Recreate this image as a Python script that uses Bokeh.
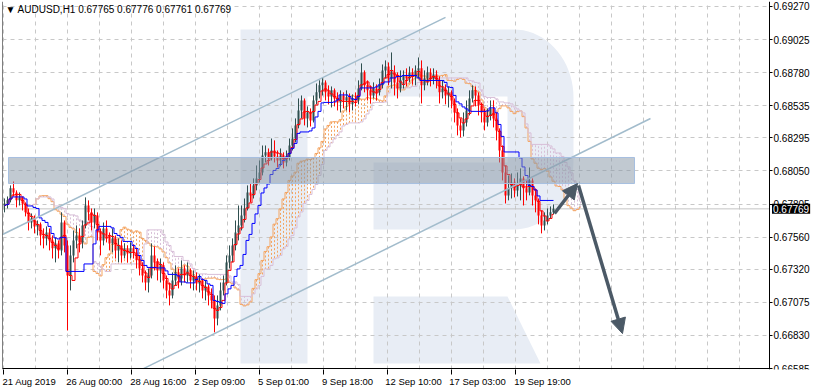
import numpy as np
import pandas as pd
from bokeh.plotting import figure
from bokeh.models import (FixedTicker, PrintfTickFormatter, Range1d, Label, Span,
                          Arrow, NormalHead, ColumnDataSource, LinearAxis)
from bokeh.embed import file_html
from bokeh.resources import INLINE

# ---------------- data ----------------
title_text = "\u25bc AUDUSD,H1  0.67765 0.67776 0.67761 0.67769"
last_price = 0.67769
hours_per_candle = 3          # each drawn candle groups 3 hourly bars
first_open = 0.67794

closes = [
 0.67809, 0.67832, 0.67921, 0.67891, 0.67832, 0.67854, 0.67809, 0.67743, 0.67668, 0.67698,
 0.67639, 0.67654, 0.67572, 0.67550, 0.67594, 0.67535, 0.67476, 0.67513, 0.67461, 0.67668,
 0.67498, 0.67275, 0.67424, 0.67535, 0.67572, 0.67520, 0.67646, 0.67794, 0.67743, 0.67668,
 0.67720, 0.67594, 0.67535, 0.67624, 0.67572, 0.67513, 0.67550, 0.67461, 0.67498, 0.67424,
 0.67476, 0.67438, 0.67476, 0.67446, 0.67387, 0.67327, 0.67275, 0.67223, 0.67275, 0.67424,
 0.67372, 0.67312, 0.67350, 0.67238, 0.67164, 0.67127, 0.67238, 0.67298, 0.67253, 0.67327,
 0.67275, 0.67312, 0.67238, 0.67268, 0.67216, 0.67238, 0.67164, 0.67194, 0.67127, 0.67090,
 0.66956, 0.67053, 0.67164, 0.67223, 0.67372, 0.67424, 0.67498, 0.67594, 0.67646, 0.67720,
 0.67772, 0.67891, 0.67869, 0.67943, 0.67995, 0.68039, 0.68165, 0.68188, 0.68143, 0.68202,
 0.68158, 0.68128, 0.68165, 0.68113, 0.68150, 0.68239, 0.68291, 0.68388, 0.68499, 0.68573,
 0.68440, 0.68484, 0.68425, 0.68573, 0.68633, 0.68685, 0.68707, 0.68633, 0.68603, 0.68648,
 0.68588, 0.68558, 0.68610, 0.68573, 0.68596, 0.68544, 0.68588, 0.68573, 0.68662, 0.68781,
 0.68685, 0.68648, 0.68610, 0.68662, 0.68633, 0.68685, 0.68796, 0.68825, 0.68736, 0.68781,
 0.68707, 0.68662, 0.68722, 0.68759, 0.68736, 0.68781, 0.68751, 0.68796, 0.68811, 0.68685,
 0.68736, 0.68781, 0.68736, 0.68766, 0.68722, 0.68633, 0.68662, 0.68610, 0.68633, 0.68573,
 0.68484, 0.68388, 0.68351, 0.68410, 0.68499, 0.68588, 0.68648, 0.68610, 0.68536, 0.68484,
 0.68410, 0.68462, 0.68514, 0.68440, 0.68351, 0.68202, 0.68039, 0.67869, 0.67921, 0.67965,
 0.67906, 0.67943, 0.67995, 0.67921, 0.67891, 0.67980, 0.67869, 0.67832, 0.67720, 0.67646,
 0.67683, 0.67720, 0.67743, 0.67769]

highs = [
 0.67846, 0.67861, 0.67943, 0.67972, 0.67906, 0.67891, 0.67861, 0.67817, 0.67772, 0.67735,
 0.67720, 0.67683, 0.67668, 0.67624, 0.67639, 0.67624, 0.67572, 0.67557, 0.67535, 0.67743,
 0.67683, 0.67535, 0.67498, 0.67609, 0.67646, 0.67624, 0.67683, 0.67854, 0.67832, 0.67772,
 0.67772, 0.67743, 0.67624, 0.67668, 0.67683, 0.67594, 0.67624, 0.67572, 0.67550, 0.67535,
 0.67513, 0.67498, 0.67520, 0.67505, 0.67476, 0.67424, 0.67372, 0.67312, 0.67327, 0.67513,
 0.67490, 0.67401, 0.67401, 0.67372, 0.67275, 0.67223, 0.67298, 0.67350, 0.67327, 0.67387,
 0.67350, 0.67372, 0.67327, 0.67312, 0.67298, 0.67283, 0.67253, 0.67238, 0.67209, 0.67179,
 0.67127, 0.67127, 0.67223, 0.67275, 0.67424, 0.67498, 0.67550, 0.67683, 0.67794, 0.67794,
 0.67846, 0.67943, 0.67958, 0.67995, 0.68091, 0.68128, 0.68239, 0.68239, 0.68217, 0.68291,
 0.68277, 0.68202, 0.68217, 0.68188, 0.68202, 0.68291, 0.68366, 0.68440, 0.68588, 0.68610,
 0.68588, 0.68529, 0.68514, 0.68610, 0.68699, 0.68722, 0.68744, 0.68722, 0.68685, 0.68677,
 0.68662, 0.68633, 0.68648, 0.68633, 0.68648, 0.68625, 0.68618, 0.68633, 0.68722, 0.68848,
 0.68796, 0.68722, 0.68685, 0.68707, 0.68692, 0.68736, 0.68840, 0.68870, 0.68855, 0.68929,
 0.68833, 0.68781, 0.68796, 0.68796, 0.68811, 0.68825, 0.68811, 0.68833, 0.68892, 0.68870,
 0.68796, 0.68825, 0.68811, 0.68811, 0.68796, 0.68751, 0.68722, 0.68692, 0.68677, 0.68648,
 0.68588, 0.68514, 0.68440, 0.68484, 0.68573, 0.68648, 0.68685, 0.68677, 0.68633, 0.68558,
 0.68514, 0.68514, 0.68573, 0.68573, 0.68484, 0.68366, 0.68239, 0.68091, 0.68017, 0.68032,
 0.67995, 0.68039, 0.68069, 0.68010, 0.67980, 0.68076, 0.67995, 0.67921, 0.67846, 0.67757,
 0.67743, 0.67772, 0.67787, 0.67802]

lows = [
 0.67743, 0.67772, 0.67817, 0.67861, 0.67780, 0.67794, 0.67757, 0.67713, 0.67609, 0.67624,
 0.67587, 0.67572, 0.67498, 0.67476, 0.67498, 0.67461, 0.67401, 0.67372, 0.67401, 0.67424,
 0.67446, 0.66867, 0.67164, 0.67372, 0.67476, 0.67446, 0.67476, 0.67624, 0.67683, 0.67609,
 0.67624, 0.67535, 0.67424, 0.67498, 0.67520, 0.67461, 0.67446, 0.67401, 0.67372, 0.67372,
 0.67401, 0.67372, 0.67401, 0.67401, 0.67327, 0.67275, 0.67223, 0.67164, 0.67149, 0.67253,
 0.67312, 0.67238, 0.67223, 0.67179, 0.67105, 0.67053, 0.67105, 0.67201, 0.67179, 0.67201,
 0.67223, 0.67223, 0.67179, 0.67164, 0.67164, 0.67149, 0.67105, 0.67090, 0.67053, 0.67031,
 0.66853, 0.66905, 0.67016, 0.67127, 0.67201, 0.67327, 0.67372, 0.67461, 0.67535, 0.67609,
 0.67668, 0.67757, 0.67817, 0.67846, 0.67906, 0.67965, 0.68017, 0.68113, 0.68091, 0.68128,
 0.68113, 0.68076, 0.68084, 0.68069, 0.68084, 0.68128, 0.68202, 0.68262, 0.68366, 0.68440,
 0.68388, 0.68373, 0.68380, 0.68410, 0.68544, 0.68588, 0.68610, 0.68573, 0.68544, 0.68521,
 0.68529, 0.68499, 0.68484, 0.68514, 0.68499, 0.68484, 0.68499, 0.68529, 0.68544, 0.68648,
 0.68633, 0.68573, 0.68551, 0.68588, 0.68573, 0.68610, 0.68662, 0.68736, 0.68685, 0.68662,
 0.68610, 0.68588, 0.68633, 0.68662, 0.68677, 0.68707, 0.68692, 0.68685, 0.68736, 0.68551,
 0.68648, 0.68685, 0.68677, 0.68692, 0.68662, 0.68551, 0.68588, 0.68544, 0.68521, 0.68514,
 0.68410, 0.68314, 0.68299, 0.68306, 0.68380, 0.68462, 0.68558, 0.68529, 0.68462, 0.68410,
 0.68351, 0.68380, 0.68425, 0.68373, 0.68277, 0.68113, 0.67980, 0.67809, 0.67832, 0.67846,
 0.67854, 0.67861, 0.67832, 0.67794, 0.67832, 0.67869, 0.67794, 0.67743, 0.67654, 0.67587,
 0.67609, 0.67654, 0.67698, 0.67728]

y_ticks = [0.69270, 0.69025, 0.68780, 0.68535, 0.68295, 0.68050,
           0.67805, 0.67560, 0.67320, 0.67075, 0.66830, 0.66585]
x_tick_hours = [0, 64, 128, 192, 256, 320, 384, 448, 512]
x_tick_labels = ["21 Aug 2019", "26 Aug 00:00", "28 Aug 16:00", "2 Sep 09:00",
                 "5 Sep 01:00", "9 Sep 18:00", "12 Sep 10:00", "17 Sep 03:00",
                 "19 Sep 19:00"]
# labels start at their tick (MetaTrader style): centre positions of each label
x_label_centres = [26, 91, 155, 216, 280, 344, 410, 474, 539]

# Ichimoku settings (9/26/52 hours, 26 hours shift) expressed in 3-hour candles
tenkan_n, kijun_n, spanb_n, shift_n = 3, 9, 17, 9

# analyst drawings (hour index, price)
zone_left, zone_right, zone_top, zone_bottom = 5, 631, 0.68150, 0.67957
chan_up = ([-1, 442], [0.67579, 0.69189])
chan_low = ([140, 647], [0.66584, 0.68439])
arrow1 = (551, 0.67735, 574, 0.67957)
arrow2 = (575, 0.67943, 619, 0.66844)

# ---------------- derived ----------------
n = len(closes)
opens = [first_open] + closes[:-1]
xc = np.arange(n) * hours_per_candle + 1
df = pd.DataFrame(dict(x=xc, open=opens, high=highs, low=lows, close=closes))
bull = df.close >= df.open
df["color"] = np.where(bull, "#2f4f4f", "#ff0000")
df["top"] = df[["open", "close"]].max(axis=1)
df["bottom"] = df[["open", "close"]].min(axis=1)

hi, lo = df.high, df.low
tenkan = (hi.rolling(tenkan_n, min_periods=1).max() + lo.rolling(tenkan_n, min_periods=1).min()) / 2
kijun = (hi.rolling(kijun_n, min_periods=1).max() + lo.rolling(kijun_n, min_periods=1).min()) / 2
span_a = (tenkan + kijun) / 2
span_b = (hi.rolling(spanb_n, min_periods=1).max() + lo.rolling(spanb_n, min_periods=1).min()) / 2
cloud_x = (np.arange(n) + shift_n) * hours_per_candle + 1
cloud = pd.DataFrame(dict(x=cloud_x, a=span_a.values, b=span_b.values))
cloud["color"] = np.where(cloud.a >= cloud.b, "#f4a460", "#d8bfd8")

# ---------------- figure ----------------
axis_pos = 766          # hour index where the price scale sits
y_lo, y_hi = 0.665776, 0.69307
p = figure(width=815, height=392, output_backend="svg", toolbar_location=None,
           x_range=Range1d(-1, 812), y_range=Range1d(y_lo, y_hi),
           y_axis_location="right", min_border_left=2, min_border_right=0,
           min_border_top=1, min_border_bottom=23)
p.outline_line_color = None
p.background_fill_color = "white"
p.border_fill_color = "white"

# watermark logo (drawn beneath the grid)
logo_color = "#e8edf5"
t1 = np.linspace(np.pi / 2, 0, 20)
t2 = np.linspace(0, -np.pi / 2, 20)
logo_x = ([237] + list(510 + 60 * np.cos(t1)) + list(510 + 60 * np.cos(t2)) +
          [370, 370, 504, 504, 304, 304, 237])
logo_y = ([0.69100] + list(0.68595 + 0.00505 * np.sin(t1)) + list(0.68121 + 0.00505 * np.sin(t2)) +
          [0.67616, 0.68113, 0.68113, 0.68603, 0.68603, 0.66622, 0.66622])
p.patch(logo_x, logo_y, fill_color=logo_color, line_color=None, level="image")
p.patch([370, 504, 537, 370], [0.67119, 0.67119, 0.66622, 0.66622],
        fill_color=logo_color, line_color=None, level="image")

# grid
p.xgrid.ticker = FixedTicker(ticks=list(range(0, 767, 32)))
for g in (p.xgrid, p.ygrid):
    g.grid_line_color = "#c8c8c8"
    g.grid_line_dash = "4 4"
    g.grid_line_width = 1

# price axis (pinned at the right edge of the chart area)
yax = p.yaxis[0]
yax.fixed_location = axis_pos
yax.ticker = FixedTicker(ticks=y_ticks)
yax.formatter = PrintfTickFormatter(format="%.5f")
yax.axis_line_color = "black"
yax.major_tick_line_color = "black"
yax.minor_tick_line_color = None
yax.major_tick_in = 0
yax.major_tick_out = 3
yax.major_label_standoff = 1
yax.major_label_text_font = "Liberation Sans"
yax.major_label_text_font_size = "10px"
yax.major_label_text_color = "black"

# time axis: tick marks only
xax = p.xaxis[0]
xax.ticker = FixedTicker(ticks=x_tick_hours)
xax.axis_line_color = None
xax.major_tick_line_color = "black"
xax.minor_tick_line_color = None
xax.major_tick_in = 0
xax.major_tick_out = 5
xax.major_label_text_font_size = "0px"
xax.major_label_text_color = None
xax.major_label_standoff = 0
# time axis: labels (left-aligned at their ticks)
xlab = LinearAxis(ticker=FixedTicker(ticks=x_label_centres),
                  major_label_overrides={c: l for c, l in zip(x_label_centres, x_tick_labels)},
                  axis_line_color=None, major_tick_line_color=None,
                  minor_tick_line_color=None, major_tick_out=0, major_tick_in=0,
                  major_label_standoff=1, major_label_text_font="Liberation Sans",
                  major_label_text_font_size="9.5px", major_label_text_color="black")
p.add_layout(xlab, "below")

p.add_layout(Span(location=-1, dimension="height", line_color="black", line_width=1))
p.add_layout(Span(location=last_price, dimension="width", line_color="#c4c4c4",
                  line_width=1, level="underlay"))

# Ichimoku cloud hatch + spans
csrc = ColumnDataSource(cloud)
p.segment(x0="x", y0="a", x1="x", y1="b", source=csrc, line_color="color",
          line_width=1, line_dash="2 2")
p.step(cloud.x, cloud.a, mode="center", line_color="#f4a460", line_width=1)
p.step(cloud.x, cloud.b, mode="center", line_color="#d8bfd8", line_width=1)

# candles
src = ColumnDataSource(df)
p.segment(x0="x", y0="high", x1="x", y1="low", source=src, line_color="color", line_width=1)
p.vbar(x="x", width=2, top="top", bottom="bottom", source=src,
       fill_color="color", line_color=None)

# Tenkan / Kijun
p.step(df.x, tenkan, mode="center", line_color="#ff0000", line_width=1)
p.step(df.x, kijun, mode="center", line_color="#0000ff", line_width=1)

# channel lines
p.line(chan_up[0], chan_up[1], line_color="#a2bccc", line_width=1.5)
p.line(chan_low[0], chan_low[1], line_color="#a2bccc", line_width=1.5)

# zone
p.quad(left=[zone_left], right=[zone_right], top=[zone_top], bottom=[zone_bottom],
       fill_color="#8494a4", fill_alpha=0.5, line_color="#a6bfe0", line_width=1)

# blank price-scale strip right of the chart area, and bottom frame line
p.quad(left=[axis_pos + 0.5], right=[812], top=[y_hi], bottom=[y_lo],
       fill_color="white", line_color=None)
p.line([-1, axis_pos], [y_ticks[-1], y_ticks[-1]], line_color="black", line_width=1)

# arrows
ac = "#4b5966"
for (xs, ys, xe, ye) in (arrow1, arrow2):
    p.add_layout(Arrow(end=NormalHead(size=15, fill_color=ac, line_color=ac),
                       x_start=xs, y_start=ys, x_end=xe, y_end=ye,
                       line_color=ac, line_width=3.5))

# title and current price label
p.add_layout(Label(x=3, y=366, x_units="screen", y_units="screen", text=title_text,
                   text_font="Liberation Sans", text_font_size="10px", text_color="black",
                   text_baseline="top"))
p.add_layout(Label(x=axis_pos + 2.5, y=last_price, x_units="data", y_units="data",
                   text="%.5f" % last_price, text_font="Liberation Sans",
                   text_font_size="10px", text_color="white", text_baseline="middle",
                   background_fill_color="black", padding=1))

open("out.html", "w").write(file_html(p, INLINE))
